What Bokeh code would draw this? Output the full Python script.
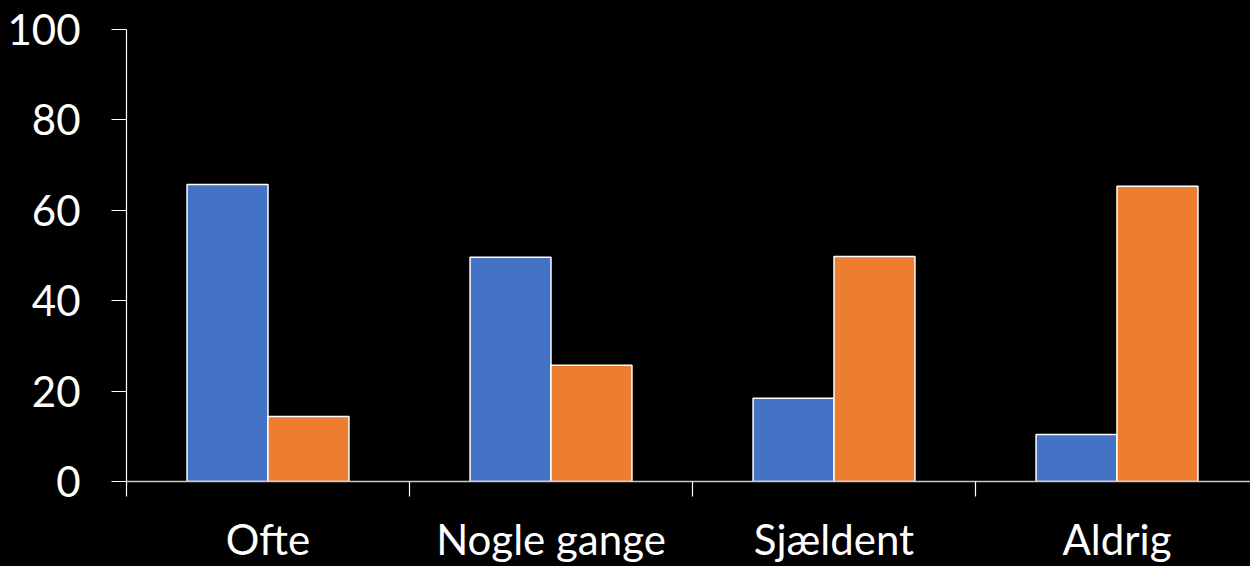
from bokeh.plotting import figure
from bokeh.models import ColumnDataSource, FixedTicker, Range1d
from bokeh.embed import file_html
from bokeh.resources import INLINE

categories = ["Ofte", "Nogle gange", "Sjældent", "Aldrig"]
series_blue = [65.7, 49.6, 18.4, 10.4]
series_orange = [14.4, 25.7, 49.8, 65.3]
y_ticks = [0, 20, 40, 60, 80, 100]

BLUE = "#4472C4"
ORANGE = "#ED7D31"
FONT = "Lato"

bar_w = 0.286
idx = list(range(len(categories)))
src_b = ColumnDataSource(dict(x=[i + 0.5 - bar_w / 2 for i in idx], top=series_blue))
src_o = ColumnDataSource(dict(x=[i + 0.5 + bar_w / 2 for i in idx], top=series_orange))

W, H = 1250, 566
left, top_b, bottom_b = 126, 29, 85
frame_w = W - left
cat_px = 283.0

p = figure(width=W, height=H, output_backend="svg", toolbar_location=None,
           x_range=Range1d(0, frame_w / cat_px), y_range=Range1d(0, 100),
           min_border_left=left, min_border_right=0, min_border_top=top_b,
           min_border_bottom=bottom_b, background_fill_color="black",
           border_fill_color="black", outline_line_color=None)

p.vbar(x="x", top="top", width=bar_w, bottom=0, source=src_b,
       fill_color=BLUE, line_color="white", line_width=1.5)
p.vbar(x="x", top="top", width=bar_w, bottom=0, source=src_o,
       fill_color=ORANGE, line_color="white", line_width=1.5)

p.xgrid.visible = False
p.ygrid.visible = False

# y axis
ya = p.yaxis[0]
ya.ticker = FixedTicker(ticks=y_ticks, minor_ticks=[])
ya.axis_line_color = "white"
ya.axis_line_width = 1.2
ya.major_tick_line_color = "white"
ya.major_tick_line_width = 1.2
ya.major_tick_out = 15
ya.major_tick_in = 0
ya.minor_tick_line_color = None
ya.major_label_text_color = "white"
ya.major_label_text_font = FONT
ya.major_label_text_font_size = "42px"
ya.major_label_standoff = 31

# x axis
xa = p.xaxis[0]
xa.ticker = FixedTicker(ticks=[i + 0.5 for i in idx], minor_ticks=list(range(len(categories) + 1)))
xa.major_label_overrides = {i + 0.5: c for i, c in zip(idx, categories)}
xa.axis_line_color = "#c8c8c8"
xa.axis_line_width = 1.5
xa.major_tick_line_color = None
xa.major_tick_out = 0
xa.major_tick_in = 0
xa.minor_tick_line_color = "white"
xa.minor_tick_line_width = 1.2
xa.minor_tick_out = 15
xa.minor_tick_in = 0
xa.major_label_text_color = "white"
xa.major_label_text_font = FONT
xa.major_label_text_font_size = "42px"
xa.major_label_standoff = 17

html = file_html(p, INLINE)
html = html.replace("<head>", "<head><style>html,body{background:#000;}</style>", 1)
open("out.html", "w").write(html)
